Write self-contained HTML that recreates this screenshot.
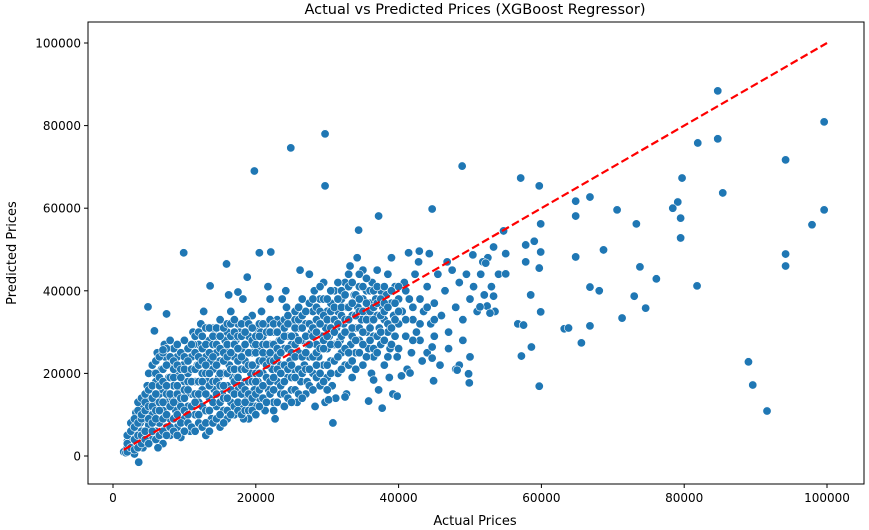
<!DOCTYPE html>
<html><head><meta charset="utf-8"><style>
body{margin:0;background:#fff;}
svg{display:block;font-family:"DejaVu Sans","Liberation Sans",sans-serif;}
</style></head><body>
<svg id="chart" width="869" height="530" viewBox="0 0 869 530" xmlns="http://www.w3.org/2000/svg">
<text x="475" y="14" text-anchor="middle" font-size="14.5">Actual vs Predicted Prices (XGBoost Regressor)</text>
<text x="475" y="525" text-anchor="middle" font-size="13">Actual Prices</text>
<text transform="translate(16,253) rotate(-90)" text-anchor="middle" font-size="13">Predicted Prices</text>
<g id="ticks"></g><g id="pts"></g><g id="line"></g>
<rect x="88" y="22" width="776" height="462" fill="none" stroke="#000" stroke-width="1"/>
</svg>
<script>
const xTicks=[0,20000,40000,60000,80000,100000];
const yTicks=[0,20000,40000,60000,80000,100000];
const outlierX=[29.7,24.9,19.8,29.7,48.9,84.7,84.7,99.6,81.9,79.7,94.2,85.4,57.1,59.7,64.8,66.8,70.6,73.3,79.1,79.5,79.5,78.4,99.6,97.9,94.2,94.2,89,89.6,91.6,81.8,73,74.6,73.8,76.1,71.3,66.8,68.1,68.7,66.8,65.6,63.2,63.8,64.8,64.8,59.9,59.9,59.7,59.9,59.7,58.6,57.2,56.7,57.5,58.5,59,57.8,57.8,55,54.7,53.3,52.2,53.3,52.4,52.8,51.4,50.4,49.9,49.8,48.5,48.2,44.9,44.7,44.7,44.7,42.9,41.4,41.6,39.8,40.4,36.5,37.7,35.8,37.2,34.4,30.8,30.2,32.5,15.9,20.5,22.1,18.8,17.5,13.6,9.9,4.9,5.8,7,7.5,3.6];
const outlierY=[78,74.6,69,65.4,70.2,88.4,76.8,80.9,75.8,67.3,71.7,63.7,67.3,65.4,61.7,62.7,59.6,56.2,61.5,57.6,52.8,60,59.6,56,48.9,46,22.8,17.2,10.9,41.2,38.7,35.8,45.8,42.9,33.4,40.9,40,49.9,31.5,27.4,30.8,31,58.1,48.2,56.2,49.4,45.5,34.9,16.9,26.4,24.2,32,31.7,39,52,51.1,47,44.1,54.5,50.6,46.7,38.7,36.3,34.6,36.1,48.7,17.7,19.9,22,20.8,18.2,23.7,26.4,59.8,49.6,49.2,20.1,14.5,19.4,18.4,11.6,13.3,58.1,54.7,8,13.6,14.3,46.5,49.2,49.4,43.3,39.7,41.2,49.2,36.1,30.3,25.7,34.4,-1.5];
const cloud=[[1.5,1],[2,2],[2.5,1.5],[2,3.5],[3,2.5],[3,5],[3.5,4],[2.8,7],[3.2,10.5],[3.8,8],[4,6],[4,12],[4.5,3],[4.5,9],[5,5],[5,14],[5.2,11],[4.8,17],[3.5,13],[2.5,4.5],[4.2,2],[5,7.5],[3,0.5],[1.8,0.8],
[5.5,4],[5.5,10],[6,6],[6,13],[6,18],[6.2,25],[6.5,8],[6.5,15],[6.8,21],[7,3],[7,11],[7,16],[7.3,24],[7.5,7],[7.5,13],[7.8,19],[8,9],[8,22],[8,5],[8.3,14],[8.5,17],[8.5,26],[8.8,11],[9,7],[9,20],[9,24],[9.3,13],[9.5,16],[9.5,4.5],[9.8,22],[10,9],[10,18],[10,28],[6.3,2],[5.8,20],[7.2,27],
[10.5,12],[10.5,20],[10.8,6],[11,15],[11,24],[11.2,30],[11.5,10],[11.5,18],[11.8,22],[12,8],[12,13],[12,27],[12.3,32],[12.5,16],[12.5,20],[12.8,11],[13,24],[13,5],[13.2,18],[13.5,14],[13.5,28],[13.8,9],[14,21],[14,31],[14.2,16],[14.5,12],[14.5,25],[14.8,19],[15,7],[15,23],[15,33],[11.3,27],[12.7,35],[13.7,23],[10.2,15],[14.3,29],
[15.3,15],[15.5,11],[15.5,20],[15.8,26],[16,9],[16,17],[16,30],[16.3,22],[16.5,13],[16.5,35],[16.8,19],[17,24],[17,10],[17.2,28],[17.5,16],[17.5,32],[17.8,21],[18,12],[18,26],[18.2,38],[18.5,18],[18.5,23],[18.8,14],[19,29],[19,9],[19.3,20],[19.5,25],[19.5,34],[19.8,16],[20,22],[20,12],[20,31],[16.2,39],[17.7,30],[18.7,33],[19.2,13],[15.7,28],[17.3,19],[18.3,9],[19.7,27],
[20.3,18],[20.5,26],[20.5,14],[20.8,35],[21,20],[21,29],[21.3,11],[21.5,24],[21.5,32],[21.8,16],[22,27],[22,38],[22.3,21],[22.5,13],[22.5,30],[22.8,25],[23,18],[23,33],[23.3,28],[23.5,15],[23.5,22],[23.8,31],[24,26],[24,12],[24.3,36],[24.5,19],[24.5,29],[24.8,23],[25,32],[25,16],[21.7,41],[23.7,38],[22.7,9],[24.2,40],[20.7,30],[25,27],
[25.3,21],[25.5,29],[25.5,35],[25.8,13],[26,25],[26,31],[26.3,18],[26.5,28],[26.5,38],[26.8,22],[27,32],[27,15],[27.3,27],[27.5,24],[27.5,44],[27.8,30],[28,20],[28,35],[28.3,12],[28.5,27],[28.5,33],[28.8,24],[29,38],[29,17],[29.3,29],[29.5,22],[29.5,42],[29.8,31],[30,26],[30,35],[26.2,45],[28.2,40],[29.7,13],[27.2,18],[30,19],
[30.3,29],[30.5,37],[30.5,23],[30.8,33],[31,27],[31,40],[31.3,31],[31.5,20],[31.5,35],[31.8,28],[32,38],[32,25],[32.3,32],[32.5,42],[32.5,22],[32.8,36],[33,30],[33,44],[33.3,27],[33.5,34],[33.5,19],[33.8,39],[34,31],[34,25],[34.3,36],[34.5,41],[34.5,28],[34.8,33],[35,38],[35,22],[31.2,14],[32.7,15],[34.2,48],[33.2,46],[30.7,17],[35,45],
[35.3,35],[35.5,30],[35.5,40],[35.8,26],[36,37],[36,33],[36.3,42],[36.5,29],[36.5,24],[36.8,38],[37,34],[37,45],[37.3,31],[37.5,27],[37.5,40],[37.8,36],[38,22],[38,33],[38.3,39],[38.5,30],[38.5,44],[38.8,26],[39,37],[39,48],[39.3,34],[39.5,29],[39.5,41],[39.8,24],[40,38],[40,32],[36.2,20],[37.2,16],[38.7,19],[39.2,15],
[40.5,35],[40.8,42],[41,29],[41.5,38],[41.8,25],[42,33],[42.3,44],[42.5,30],[43,38],[43,28],[43.5,35],[44,41],[44,25],[44.5,32],[45,37],[45,29],[45.5,44],[45.8,22],[46,34],[46.5,40],[47,30],[47,26],[47.5,45],[48,36],[48,21],[48.5,42],[49,33],[49,28],[49.5,44],[50,38],[50,24],[46.8,47],[44.3,49],[43.3,23],[41.2,21],[42.8,47],
[50.5,41],[51,35],[51.5,44],[52,39],[52.5,48],[53,41],[53.5,35],[54,44],[55,49],[51.8,47]];
// dense core: x (thousands) with predicted values (thousands) at that x
const coreX=[2,2.5,3,3.5,4,4.5,5,5.5,6,6.5,7,7.5,8,8.5,9,9.5,10,10.5,11,11.5,12,12.5,13,13.5,14,14.5,15,15.5,16,16.5,17,17.5,18,18.5,19,19.5,20,20.5,21,21.5,22,22.5,23,23.5,24,24.5,25,25.5,26,26.5,27,27.5,28,28.5,29,29.5,30,30.5,31,31.5,32,32.5,33,33.5,34,34.5,35,35.5,36,36.5,37,37.5,38,38.5,39,39.5,40,41,42,43,44,45];
const coreY=[[1,3,5],[2,6,8],[1.5,4,7,9],[2,5,8,11],[3,5,9,10,14],[4,6,11,13,15],[3,9,12,16,20],[6,8,12,14,17,22],[4,9,11,15,20,23],[5,11,13,17,19,24],[6,9,13,18,21,25],[5,10,15,17,22,26],[7,12,15,19,24,28],[6,9,13,19,21,23],[5,10,15,17,22,27],[8,12,14,19,21,25],[6,11,14,16,21,24],[8,10,16,18,23,26],[7,12,18,21,27],[6,13,15,21,25,29],[10,15,18,22,24,30],[7,12,18,23,26,29],[8,11,15,20,22,27,31],[6,11,17,20,25,31],[8,13,18,24,27,29],[9,15,18,22,27,31],[10,13,17,20,26,29],[8,14,17,23,25,31],[11,14,20,24,27,32],[10,16,21,25,29,32],[12,15,18,21,27,30,33],[11,13,19,23,26,29],[10,15,17,21,24,29,32],[11,13,16,21,27,30],[11,15,18,22,25,32],[11,14,18,22,28,31],[10,15,18,20,25,27,29],[12,16,20,23,29,32],[14,17,23,25,27,32],[13,19,22,27,30],[15,18,23,25,30,33],[11,16,19,23,27,32],[13,21,24,26,30],[17,20,25,28,32],[15,18,22,29,31,33],[14,21,26,32,34],[13,19,22,25,29],[16,19,24,27,31,33],[15,21,28,33,36],[14,20,24,31,34],[21,25,29,35],[17,21,27,32,37],[16,24,29,31,38],[19,22,25,30,36],[20,26,32,35,41],[18,26,28,34,38],[16,22,29,33,38],[20,27,31,35,40],[23,30,33,36],[24,27,32,38,42],[21,29,34,36,40],[26,30,33,39],[22,25,33,36,41],[23,29,31,37,42],[21,28,34,39],[25,31,35,38,44],[27,30,35,41],[24,33,37,43],[28,31,35,40],[26,33,36,40],[25,29,37,41],[30,34,38],[28,35,37,41],[24,32,36],[27,31,40],[33,37],[26,35,41],[33,40],[36,28],[32],[36],[33]];
const lineRange=[1500,100000];

const NS="http://www.w3.org/2000/svg";
const sx=v=>113+(v/20000)*142.8;
const sy=v=>456-(v/20000)*82.6;
function mk(tag,attrs,parent){const e=document.createElementNS(NS,tag);for(const k in attrs)e.setAttribute(k,attrs[k]);parent.appendChild(e);return e;}
const tg=document.getElementById('ticks');
xTicks.forEach(t=>{
  const l=mk('line',{x1:sx(t),x2:sx(t),y1:484,y2:488,stroke:'#000'},tg);
  
  
  const tx=mk('text',{x:sx(t),y:502,'text-anchor':'middle','font-size':'12'},tg);tx.textContent=t;
  
  
});
yTicks.forEach(t=>{
  const l=mk('line',{x1:84,x2:88,y1:sy(t),y2:sy(t),stroke:'#000'},tg);
  
  
  const tx=mk('text',{x:81,y:sy(t)+4.5,'text-anchor':'end','font-size':'12'},tg);tx.textContent=t;
  
  
});
const pg=document.getElementById('pts');
function dot(x,y){
  const c=mk('circle',{cx:sx(x*1000),cy:sy(y*1000),r:4.2,fill:'#1f77b4',stroke:'#fff','stroke-width':'0.6'},pg);
  
  
}
cloud.forEach(p=>dot(p[0],p[1]));
coreX.forEach((x,i)=>coreY[i].forEach(y=>dot(x,y)));
outlierX.forEach((x,i)=>dot(x,outlierY[i]));
const ln=mk('line',{x1:sx(lineRange[0]),y1:sy(lineRange[0]),x2:sx(lineRange[1]),y2:sy(lineRange[1]),stroke:'#ff0000','stroke-width':'2.2','stroke-dasharray':'8,3.5'},document.getElementById('line'));


</script>
</body></html>
